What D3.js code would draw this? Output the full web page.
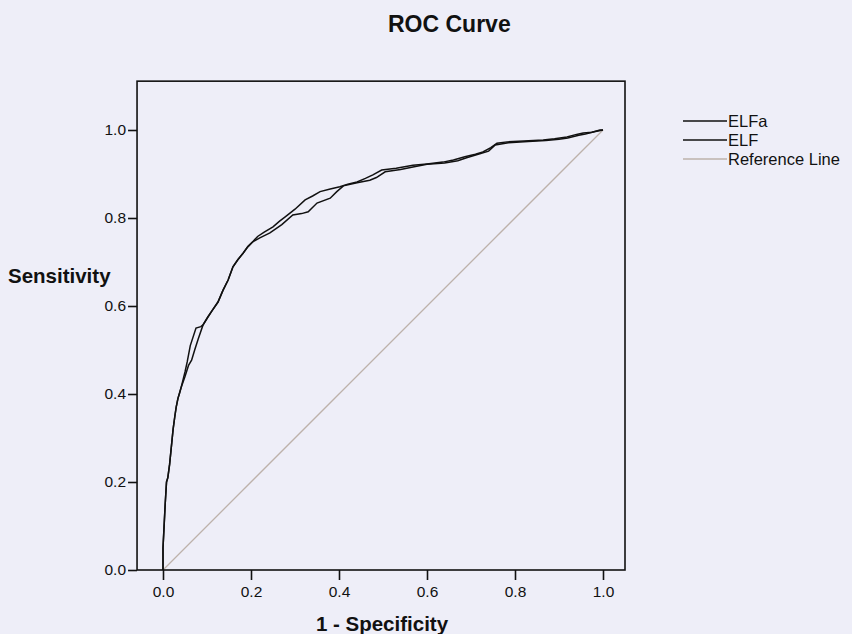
<!DOCTYPE html>
<html>
<head>
<meta charset="utf-8">
<script src="https://cdn.jsdelivr.net/npm/d3@7"></script>
<style>
  html, body { margin: 0; padding: 0; background: #eeeef8; }
  svg { display: block; }
  text { font-family: "Liberation Sans", Arial, sans-serif; fill: #111; }
</style>
</head>
<body>
<svg id="chart" width="852" height="634"></svg>
<script>
// ROC coordinates: 1 - specificity (fpr) against sensitivity (tpr)
const elfaFpr = [0, 0, 0.002, 0.005, 0.008, 0.011, 0.015, 0.02, 0.023, 0.027, 0.03, 0.034, 0.037, 0.041,
  0.05, 0.058, 0.065, 0.072, 0.08, 0.091, 0.102, 0.112, 0.125, 0.136, 0.148, 0.159, 0.17, 0.182, 0.193, 0.204,
  0.215, 0.23, 0.25, 0.265, 0.277, 0.3, 0.323, 0.34, 0.357, 0.38, 0.402, 0.42, 0.441, 0.46, 0.477,
  0.497, 0.53, 0.568, 0.6, 0.636, 0.66, 0.686, 0.71, 0.727, 0.745, 0.759, 0.782, 0.82, 0.864, 0.89, 0.918,
  0.94, 0.955, 0.975, 0.993, 1];
const elfaTpr = [0, 0.05, 0.09, 0.15, 0.2, 0.21, 0.24, 0.29, 0.32, 0.35, 0.37, 0.39, 0.4, 0.414,
  0.44, 0.465, 0.477, 0.5, 0.525, 0.557, 0.575, 0.59, 0.609, 0.635, 0.659, 0.689, 0.705, 0.72, 0.735, 0.746,
  0.758, 0.768, 0.78, 0.793, 0.802, 0.82, 0.841, 0.85, 0.86, 0.866, 0.871, 0.877, 0.882, 0.89, 0.898,
  0.909, 0.913, 0.92, 0.923, 0.927, 0.932, 0.939, 0.945, 0.95, 0.96, 0.97, 0.973, 0.975, 0.977, 0.98, 0.984,
  0.99, 0.993, 0.995, 1.0, 1];

const elfFpr = [0, 0, 0.002, 0.005, 0.008, 0.011, 0.015, 0.02, 0.023, 0.027, 0.03, 0.034, 0.037, 0.041,
  0.05, 0.055, 0.062, 0.075, 0.086, 0.091, 0.102, 0.112, 0.125, 0.136, 0.148, 0.159, 0.17, 0.182, 0.193, 0.204,
  0.22, 0.243, 0.27, 0.295, 0.315, 0.33, 0.35, 0.38, 0.395, 0.41, 0.441, 0.47, 0.485,
  0.505, 0.54, 0.568, 0.6, 0.64, 0.67, 0.69, 0.72, 0.74, 0.755, 0.785, 0.83, 0.87, 0.9, 0.92,
  0.945, 0.96, 0.98, 1];
const elfTpr = [0, 0.05, 0.09, 0.15, 0.2, 0.21, 0.24, 0.29, 0.32, 0.35, 0.37, 0.39, 0.4, 0.414,
  0.45, 0.473, 0.51, 0.55, 0.553, 0.557, 0.575, 0.59, 0.609, 0.635, 0.659, 0.689, 0.705, 0.72, 0.735, 0.746,
  0.755, 0.766, 0.785, 0.807, 0.81, 0.814, 0.834, 0.845, 0.86, 0.873, 0.88, 0.886, 0.892,
  0.905, 0.91, 0.916, 0.922, 0.925, 0.93, 0.937, 0.946, 0.952, 0.966, 0.971, 0.974, 0.976, 0.979, 0.982,
  0.988, 0.991, 0.996, 1];

const refFpr = [0, 1];
const refTpr = [0, 1];

const seriesNames = ["ELFa", "ELF", "Reference Line"];
const tickValues = [0.0, 0.2, 0.4, 0.6, 0.8, 1.0];

const chartTitle = "ROC Curve";
const xTitle = "1 - Specificity";
const yTitle = "Sensitivity";

const svg = d3.select("#chart");

const x = d3.scaleLinear().domain([0, 1]).range([163, 603]);
const y = d3.scaleLinear().domain([0, 1]).range([570, 130]);

// plot frame extends a little past the unit square
const frame = { x0: x(-0.059), x1: x(1.05), y0: y(1.111), y1: y(0) };

svg.append("text")
  .attr("x", 388).attr("y", 32)
  .style("font-size", "23px").style("font-weight", "bold")
  .text(chartTitle);

const toPts = (xs, ys) => xs.map((v, i) => [v, ys[i]]);
const line = d3.line().x(d => x(d[0])).y(d => y(d[1]));

// reference diagonal
svg.append("path")
  .datum(toPts(refFpr, refTpr))
  .attr("d", line)
  .attr("fill", "none")
  .attr("stroke", "#bdb2ab")
  .attr("stroke-width", 1.3);

// the two ROC curves
svg.append("path")
  .datum(toPts(elfFpr, elfTpr))
  .attr("d", line)
  .attr("fill", "none")
  .attr("stroke", "#111")
  .attr("stroke-width", 1.5)
  .attr("stroke-linejoin", "miter");

svg.append("path")
  .datum(toPts(elfaFpr, elfaTpr))
  .attr("d", line)
  .attr("fill", "none")
  .attr("stroke", "#111")
  .attr("stroke-width", 1.5)
  .attr("stroke-linejoin", "miter");

// frame
svg.append("rect")
  .attr("x", frame.x0).attr("y", frame.y0)
  .attr("width", frame.x1 - frame.x0).attr("height", frame.y1 - frame.y0)
  .attr("fill", "none").attr("stroke", "#111").attr("stroke-width", 1.6);

// axes
const fmt = d3.format(".1f");
const yAxis = svg.append("g")
  .attr("transform", `translate(${frame.x0},0)`)
  .call(d3.axisLeft(y).tickValues(tickValues).tickFormat(fmt).tickSize(9).tickPadding(2));
const xAxis = svg.append("g")
  .attr("transform", `translate(0,${frame.y1})`)
  .call(d3.axisBottom(x).tickValues(tickValues).tickFormat(fmt).tickSize(10).tickPadding(6));

[xAxis, yAxis].forEach(g => {
  g.select(".domain").remove();
  g.selectAll(".tick line").attr("stroke", "#111").attr("stroke-width", 1.6);
  g.selectAll(".tick text")
    .style("font-family", "'Liberation Sans', Arial, sans-serif")
    .style("font-size", "15.5px").attr("fill", "#111");
});

svg.append("text")
  .attr("x", x(0.5) - 1).attr("y", 631)
  .attr("text-anchor", "middle")
  .style("font-size", "20.5px").style("font-weight", "bold")
  .text(xTitle);

svg.append("text")
  .attr("x", 8).attr("y", 283)
  .style("font-size", "20.5px").style("font-weight", "bold")
  .text(yTitle);

// legend
const legendColors = ["#111", "#111", "#bdb2ab"];
const legendWidths = [1.5, 1.5, 1.3];
const legend = svg.append("g").selectAll("g")
  .data(seriesNames)
  .join("g")
  .attr("transform", (d, i) => `translate(683,${121 + i * 19})`);
legend.append("line")
  .attr("x1", 0).attr("x2", 44).attr("y1", 0).attr("y2", 0)
  .attr("stroke", (d, i) => legendColors[i])
  .attr("stroke-width", (d, i) => legendWidths[i]);
legend.append("text")
  .attr("x", 45).attr("y", 6)
  .style("font-size", "16.5px")
  .text(d => d);
</script>
</body>
</html>
